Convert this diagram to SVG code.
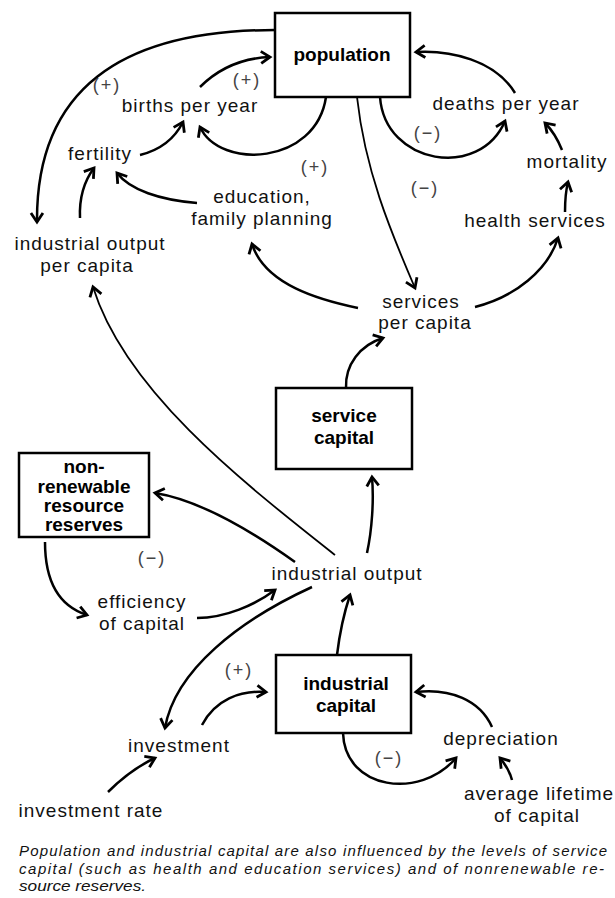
<svg xmlns="http://www.w3.org/2000/svg" width="615" height="898" viewBox="0 0 615 898">
<style>
.lbl{font-family:"Liberation Sans",Arial,sans-serif;font-size:19px;letter-spacing:1px;fill:#111;text-anchor:middle}
.bold{font-family:"Liberation Sans",Arial,sans-serif;font-size:19px;font-weight:bold;fill:#000;text-anchor:middle}
.sign{font-family:"Liberation Sans",Arial,sans-serif;font-size:18px;letter-spacing:2px;fill:#444;text-anchor:middle}
.cap{font-family:"Liberation Sans",Arial,sans-serif;font-size:15px;font-style:italic;fill:#111}
.box{fill:#fff;stroke:#000;stroke-width:2.5}
.c{fill:none;stroke:#000;stroke-width:2.5;marker-end:url(#ah)}
.t{fill:none;stroke:#000;stroke-width:1.8;marker-end:url(#ah)}
</style>
<defs>
<marker id="ah" markerUnits="userSpaceOnUse" markerWidth="20" markerHeight="20" refX="0" refY="0" viewBox="-12 -10 14 20" orient="auto">
<path d="M-9,-6 L0,0 L-9,6" fill="none" stroke="#000" stroke-width="2.8" stroke-linejoin="miter"/>
</marker>
</defs>
<rect width="615" height="898" fill="#fff"/>
<g id="connectors">
<path class="c" d="M275,30 C120,30 36,90 37,222"/>
<path class="c" d="M200,87 C220,67 245,58 270,57"/>
<path class="c" d="M140,155 C160,150 175,138 183,122"/>
<path class="c" d="M326,97 C316,165 220,170 200,127"/>
<path class="c" d="M197,203 C160,200 130,190 117,173"/>
<path class="c" d="M80,218 C79,195 85,180 94,168"/>
<path class="c" d="M380,97 C385,165 480,180 505,121"/>
<path class="c" d="M515,93 C495,60 450,50 416,52"/>
<path class="c" d="M562,150 C558,140 552,130 545,123"/>
<path class="c" d="M565,212 C565,200 566,190 568,182"/>
<path class="c" d="M475,307 C515,297 548,270 558,238"/>
<path class="t" d="M357,97 C365,170 390,230 415,288"/>
<path class="c" d="M358,308 C320,300 265,285 252,244"/>
<path class="c" d="M346,388 C345,365 360,345 383,338"/>
<path class="c" d="M367,553 C372,530 374,500 372,477"/>
<path class="t" d="M335,555 C240,480 125,390 93,287"/>
<path class="c" d="M295,562 C250,530 200,500 155,493"/>
<path class="c" d="M45,542 C45,590 65,608 87,615"/>
<path class="c" d="M197,618 C225,618 255,605 275,590"/>
<path class="c" d="M312,587 C240,620 175,670 165,728"/>
<path class="c" d="M202,725 C215,700 240,690 266,692"/>
<path class="c" d="M108,792 C122,778 138,766 155,758"/>
<path class="c" d="M337,655 C340,630 345,610 350,595"/>
<path class="c" d="M492,727 C480,700 450,688 416,692"/>
<path class="c" d="M343,733 C345,790 420,800 456,758"/>
<path class="c" d="M512,780 C510,772 505,764 500,758"/>
</g>
<g id="population"><rect class="box" x="275" y="13" width="135" height="84"/><text class="bold" x="342" y="61" font-size="20">population</text></g>
<g id="service-capital"><rect class="box" x="276" y="388" width="136" height="81"/><text class="bold" x="344" y="422">service</text><text class="bold" x="344" y="444">capital</text></g>
<g id="nonrenewable"><rect class="box" x="19" y="453" width="130" height="84"/><text class="bold" x="84" y="473">non-</text><text class="bold" x="84" y="493">renewable</text><text class="bold" x="84" y="512">resource</text><text class="bold" x="84" y="531">reserves</text></g>
<g id="industrial-capital"><rect class="box" x="276" y="655" width="135" height="78"/><text class="bold" x="346" y="690">industrial</text><text class="bold" x="346" y="712">capital</text></g>
<g id="births"><text class="lbl" x="190" y="112">births per year</text></g>
<g id="fertility"><text class="lbl" x="100" y="160">fertility</text></g>
<g id="education"><text class="lbl" x="262" y="203">education,</text><text class="lbl" x="262" y="225">family planning</text></g>
<g id="iopc"><text class="lbl" x="90" y="250">industrial output</text><text class="lbl" x="87" y="272">per capita</text></g>
<g id="deaths"><text class="lbl" x="506" y="110">deaths per year</text></g>
<g id="mortality"><text class="lbl" x="567" y="168">mortality</text></g>
<g id="health"><text class="lbl" x="535" y="227">health services</text></g>
<g id="spc"><text class="lbl" x="421" y="308">services</text><text class="lbl" x="425" y="329">per capita</text></g>
<g id="io"><text class="lbl" x="347" y="580">industrial output</text></g>
<g id="efficiency"><text class="lbl" x="142" y="608">efficiency</text><text class="lbl" x="142" y="630">of capital</text></g>
<g id="investment"><text class="lbl" x="179" y="752">investment</text></g>
<g id="investment-rate"><text class="lbl" x="91" y="817">investment rate</text></g>
<g id="depreciation"><text class="lbl" x="501" y="745">depreciation</text></g>
<g id="lifetime"><text class="lbl" x="539" y="800">average lifetime</text><text class="lbl" x="537" y="822">of capital</text></g>
<g id="signs">
<text class="sign" x="107" y="91">(+)</text>
<text class="sign" x="247" y="86">(+)</text>
<text class="sign" x="315" y="173">(+)</text>
<text class="sign" x="428" y="139">(−)</text>
<text class="sign" x="425" y="194">(−)</text>
<text class="sign" x="152" y="564">(−)</text>
<text class="sign" x="239" y="676">(+)</text>
<text class="sign" x="389" y="764">(−)</text>
</g>
<g id="caption">
<text class="cap" x="19" y="856" textLength="588" lengthAdjust="spacing">Population and industrial capital are also influenced by the levels of service</text>
<text class="cap" x="19" y="874" textLength="585" lengthAdjust="spacing">capital (such as health and education services) and of nonrenewable re-</text>
<text class="cap" x="19" y="891" textLength="127" lengthAdjust="spacingAndGlyphs">source reserves.</text>
</g>
</svg>
